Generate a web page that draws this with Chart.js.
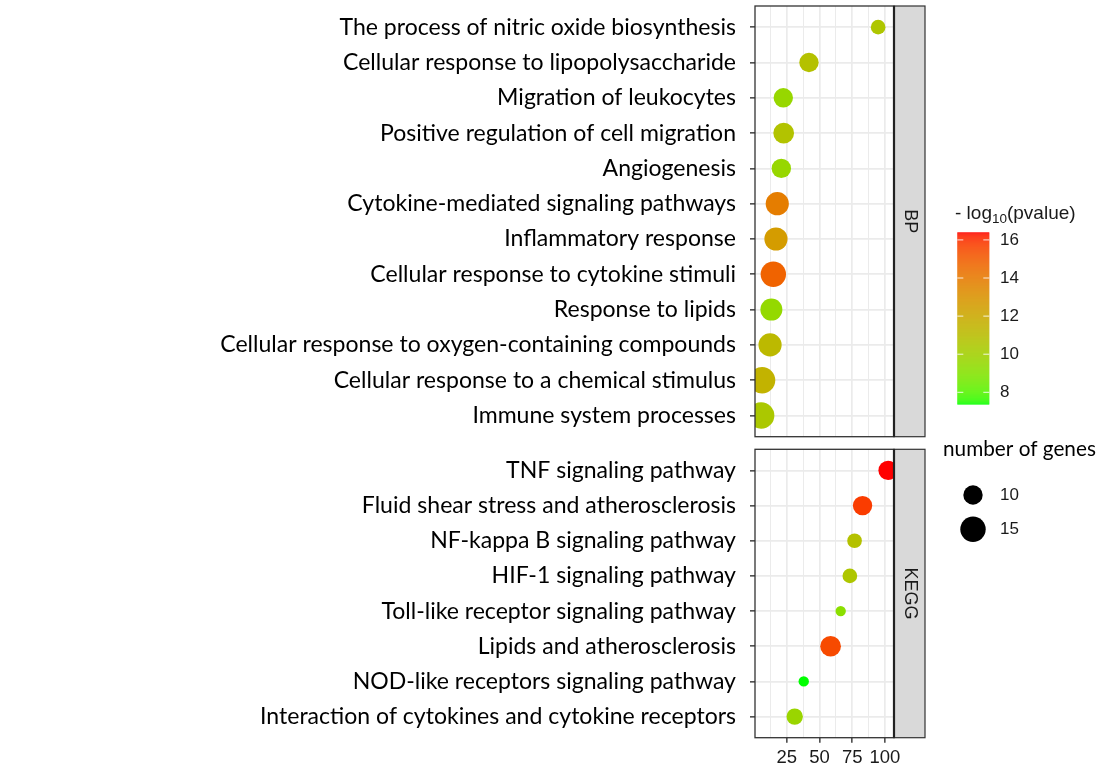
<!DOCTYPE html>
<html><head><meta charset="utf-8">
<script src="https://cdn.jsdelivr.net/npm/chart.js@4"></script>
<style>
html,body{margin:0;padding:0;background:#fff;width:1119px;height:781px;overflow:hidden}
#wrap{position:relative;width:1119px;height:781px}
canvas{position:absolute;left:0;top:0}
</style></head><body>
<div id="wrap">
<canvas id="c1" width="1119" height="781" style="width:1119px;height:781px"></canvas>
<canvas id="c2" width="1119" height="781" style="width:1119px;height:781px"></canvas>
</div>
<script>
// ---------------- data ----------------
const bpTerms = [
  "The process of nitric oxide biosynthesis",
  "Cellular response to lipopolysaccharide",
  "Migration of leukocytes",
  "Positive regulation of cell migration",
  "Angiogenesis",
  "Cytokine-mediated signaling pathways",
  "Inflammatory response",
  "Cellular response to cytokine stimuli",
  "Response to lipids",
  "Cellular response to oxygen-containing compounds",
  "Cellular response to a chemical stimulus",
  "Immune system processes"
];
const bpX     = [94.8, 42.0, 22.4, 22.7, 20.9, 17.8, 16.8, 14.8, 13.3, 12.3, 6.2, 5.5];
const bpLogP  = [10.5, 10.8, 9.6, 10.7, 9.6, 13.9, 12.6, 14.8, 9.5, 11.2, 11.5, 10.4];
const bpGenes = [7, 10, 10, 11, 10, 13, 13, 15, 12, 13, 16, 16];

const keggTerms = [
  "TNF signaling pathway",
  "Fluid shear stress and atherosclerosis",
  "NF-kappa B signaling pathway",
  "HIF-1 signaling pathway",
  "Toll-like receptor signaling pathway",
  "Lipids and atherosclerosis",
  "NOD-like receptors signaling pathway",
  "Interaction of cytokines and cytokine receptors"
];
const keggX     = [102.4, 82.9, 76.8, 73.2, 66.2, 58.5, 38.0, 31.1];
const keggLogP  = [16.4, 15.8, 10.8, 10.5, 9.2, 15.5, 7.37, 9.7];
const keggGenes = [10, 10, 7, 7, 5, 11, 5, 8];

const xTickValues = [25, 50, 75, 100];
const xTickLabels = ["25", "50", "75", "100"];
const xMinorValues = [12.5, 37.5, 62.5, 87.5];
const colorTicks = [8, 10, 12, 14, 16];
const sizeBreaks = [10, 15];
const stripLabels = ["BP", "KEGG"];

// ---------------- layout constants ----------------
const X_MIN = 0.8, X_MAX = 106.9;
const PANEL_LEFT = 755, PANEL_RIGHT = 894, STRIP_RIGHT = 925;
const BP_TOP = 6, BP_BOTTOM = 436.7, KEGG_TOP = 449.3, KEGG_BOTTOM = 737.7;
const W = 1119, H = 781;

// ---------------- colour scale (Lab interpolation green -> red) ----------------
function lin(c){c/=255;return c<=0.04045?c/12.92:Math.pow((c+0.055)/1.055,2.4);}
function unlin(c){c=c<=0.0031308?12.92*c:1.055*Math.pow(c,1/2.4)-0.055;return Math.round(Math.max(0,Math.min(1,c))*255);}
function rgb2lab(rgb){
  const R=lin(rgb[0]),G=lin(rgb[1]),B=lin(rgb[2]);
  let X=(0.4124564*R+0.3575761*G+0.1804375*B)/0.95047;
  let Y=(0.2126729*R+0.7151522*G+0.0721750*B);
  let Z=(0.0193339*R+0.1191920*G+0.9503041*B)/1.08883;
  const f=t=>t>0.008856?Math.cbrt(t):7.787*t+16/116;
  const fx=f(X),fy=f(Y),fz=f(Z);
  return [116*fy-16,500*(fx-fy),200*(fy-fz)];
}
function lab2rgb(lab){
  const fy=(lab[0]+16)/116, fx=fy+lab[1]/500, fz=fy-lab[2]/200;
  const fi=t=>t*t*t>0.008856?t*t*t:(t-16/116)/7.787;
  const X=fi(fx)*0.95047, Y=fi(fy), Z=fi(fz)*1.08883;
  const R= 3.2404542*X-1.5371385*Y-0.4985314*Z;
  const G=-0.9692660*X+1.8760108*Y+0.0415560*Z;
  const B= 0.0556434*X-0.2040259*Y+1.0572252*Z;
  return [unlin(R),unlin(G),unlin(B)];
}
const LOW = rgb2lab([0,255,0]), HIGH = rgb2lab([255,0,0]);
const allP = bpLogP.concat(keggLogP);
const P_MIN = Math.min(...allP), P_MAX = Math.max(...allP);
function colorFor(v){
  const t=Math.max(0,Math.min(1,(v-P_MIN)/(P_MAX-P_MIN)));
  const c=lab2rgb([LOW[0]+(HIGH[0]-LOW[0])*t, LOW[1]+(HIGH[1]-LOW[1])*t, LOW[2]+(HIGH[2]-LOW[2])*t]);
  return `rgb(${c[0]},${c[1]},${c[2]})`;
}
// size scale (area linear in gene count)
function radiusFor(n){ return Math.sqrt(Math.max(4, 13.4*n - 40)); }

// ---------------- fonts ----------------
const LABEL_FONT = 'Lato, "Open Sans", sans-serif';
const ARIAL = '"Liberation Sans", Arial, sans-serif';
const mctx = document.createElement('canvas').getContext('2d');
mctx.font = '100px ' + LABEL_FONT;
const labelSize = 100 * 516 / mctx.measureText("Cellular response to oxygen-containing compounds").width;

// ---------------- plugins ----------------
const majorSet = new Set(xTickValues);
const ZERO_PAD = () => ({left: 0, top: 0, right: 0, bottom: 0});
function decorPlugin(strip, extra){
  return {
    id: 'decor_' + strip,
    afterDatasetsDraw(chart){
      const ctx = chart.ctx, a = chart.chartArea;
      ctx.save();
      ctx.fillStyle = '#d9d9d9';
      ctx.fillRect(PANEL_RIGHT, a.top, STRIP_RIGHT - PANEL_RIGHT, a.bottom - a.top);
      ctx.strokeStyle = '#333333';
      ctx.lineWidth = 1.2;
      ctx.strokeRect(PANEL_RIGHT, a.top, STRIP_RIGHT - PANEL_RIGHT, a.bottom - a.top);
      ctx.fillStyle = '#1a1a1a';
      ctx.font = '18px ' + ARIAL;
      ctx.textAlign = 'center'; ctx.textBaseline = 'middle';
      ctx.translate((PANEL_RIGHT + STRIP_RIGHT) / 2, (a.top + a.bottom) / 2);
      ctx.rotate(Math.PI / 2);
      ctx.fillText(strip, 0, 0);
      ctx.restore();
      ctx.save();
      ctx.strokeStyle = '#333333';
      ctx.lineWidth = 1.3;
      ctx.strokeRect(a.left, a.top, a.right - a.left, a.bottom - a.top);
      ctx.lineWidth = 2.2;
      ctx.strokeStyle = '#222';
      ctx.beginPath(); ctx.moveTo(a.right, a.top); ctx.lineTo(a.right, a.bottom); ctx.stroke();
      ctx.restore();
      if (extra) extra(ctx);
    }
  };
}

function drawColorLegend(ctx){
  ctx.save();
  ctx.fillStyle = '#1a1a1a';
  ctx.textBaseline = 'alphabetic'; ctx.textAlign = 'left';
  let x = 955, base = 218.5;
  ctx.font = '19px ' + ARIAL;
  ctx.fillText('- log', x, base); x += ctx.measureText('- log').width;
  ctx.font = '13.5px ' + ARIAL;
  ctx.fillText('10', x, base + 4.5); x += ctx.measureText('10').width;
  ctx.font = '19px ' + ARIAL;
  ctx.fillText('(pvalue)', x, base);
  const bx = 957.3, bw = 32, top = 232.3, bot = 404.3, h = bot - top;
  for (let i = 0; i < h; i++) {
    const v = P_MAX - (i + 0.5) / h * (P_MAX - P_MIN);
    ctx.fillStyle = colorFor(v);
    ctx.fillRect(bx, top + i, bw, 1.3);
  }
  ctx.font = '17px ' + ARIAL;
  ctx.textBaseline = 'middle';
  colorTicks.forEach(v => {
    const y = bot - (v - P_MIN) / (P_MAX - P_MIN) * h;
    ctx.strokeStyle = 'rgba(255,255,255,0.85)'; ctx.lineWidth = 1;
    ctx.beginPath(); ctx.moveTo(bx, y); ctx.lineTo(bx + 6, y);
    ctx.moveTo(bx + bw - 6, y); ctx.lineTo(bx + bw, y); ctx.stroke();
    ctx.fillStyle = '#1a1a1a';
    ctx.fillText(String(v), 1000, y);
  });
  ctx.restore();
}
function drawSizeLegend(ctx){
  ctx.save();
  ctx.fillStyle = '#000';
  ctx.textBaseline = 'alphabetic'; ctx.textAlign = 'left';
  ctx.font = (labelSize * 0.9).toFixed(2) + 'px ' + LABEL_FONT;
  ctx.fillText('number of genes', 943, 455.5);
  const ys = [495, 529.3];
  ctx.font = '17px ' + ARIAL;
  ctx.textBaseline = 'middle';
  sizeBreaks.forEach((n, i) => {
    ctx.fillStyle = '#000';
    ctx.beginPath(); ctx.arc(973, ys[i], radiusFor(n), 0, Math.PI * 2); ctx.fill();
    ctx.fillStyle = '#1a1a1a';
    ctx.fillText(String(n), 1000, ys[i]);
  });
  ctx.restore();
}

// ---------------- panels ----------------
function makePanel(id, terms, xs, logp, genes, o){
  const pts = terms.map((t, i) => ({x: xs[i], y: i}));
  return new Chart(document.getElementById(id), {
    type: 'scatter',
    data: {datasets: [{
      data: pts,
      pointRadius: genes.map(radiusFor),
      pointHoverRadius: genes.map(radiusFor),
      backgroundColor: logp.map(colorFor),
      borderWidth: 0, pointBorderWidth: 0
    }]},
    options: {
      responsive: false, animation: false, events: [],
      layout: {autoPadding: false, padding: {left: 0, top: o.top, right: W - PANEL_RIGHT, bottom: o.bottomPad}},
      plugins: {legend: {display: false}, tooltip: {enabled: false}},
      scales: {
        x: {
          type: 'linear', min: X_MIN, max: X_MAX,
          afterBuildTicks: s => { s.ticks = xMinorValues.concat(xTickValues).sort((a, b) => a - b).map(v => ({value: v})); },
          afterFit: s => { s.height = o.xHeight; s.paddingLeft = 0; s.paddingRight = 0; s.getPadding = ZERO_PAD; },
          border: {display: false},
          grid: {
            color: '#ebebeb',
            lineWidth: c => (c.tick && majorSet.has(c.tick.value)) ? 1.7 : 1.0,
            drawTicks: o.showX, tickLength: 5, tickWidth: 1.4,
            tickColor: c => (c.tick && majorSet.has(c.tick.value)) ? '#333333' : 'rgba(0,0,0,0)'
          },
          ticks: {
            display: o.showX, autoSkip: false, maxRotation: 0, padding: 4,
            callback: v => { const k = xTickValues.indexOf(v); return k >= 0 ? xTickLabels[k] : ''; },
            font: {family: ARIAL, size: 18.5}, color: '#1a1a1a'
          }
        },
        y: {
          type: 'linear', reverse: true, min: -0.6, max: terms.length - 1 + 0.6,
          afterBuildTicks: s => { s.ticks = terms.map((_, i) => ({value: i})); },
          afterFit: s => { s.width = PANEL_LEFT; s.paddingTop = 0; s.paddingBottom = 0; s.getPadding = ZERO_PAD; },
          border: {display: false},
          grid: {color: '#ebebeb', lineWidth: 1.7, tickLength: 5, tickWidth: 1.4, tickColor: '#333333'},
          ticks: {
            autoSkip: false, padding: 14,
            callback: v => terms[v],
            font: {family: LABEL_FONT, size: labelSize}, color: '#000'
          }
        }
      }
    },
    plugins: [decorPlugin(o.strip, o.extra)]
  });
}

makePanel('c1', bpTerms, bpX, bpLogP, bpGenes, {
  top: BP_TOP, bottomPad: H - BP_BOTTOM, xHeight: 0, showX: false,
  strip: stripLabels[0], extra: drawColorLegend
});
makePanel('c2', keggTerms, keggX, keggLogP, keggGenes, {
  top: KEGG_TOP, bottomPad: 0, xHeight: H - KEGG_BOTTOM, showX: true,
  strip: stripLabels[1], extra: drawSizeLegend
});
</script>
</body></html>
